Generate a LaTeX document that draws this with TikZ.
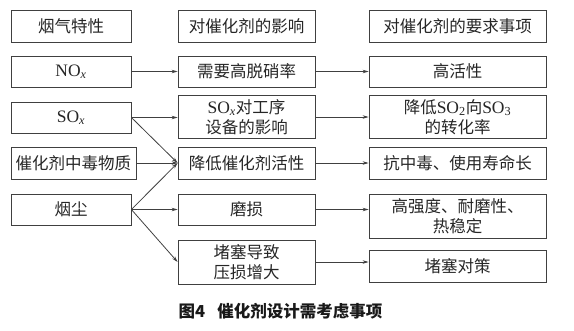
\documentclass[tikz,border=0pt]{standalone}
\usepackage{fontspec}
\setmainfont{Liberation Serif}
\newfontfamily\cjk{Noto Sans CJK SC}
\usetikzlibrary{arrows.meta}
\newcommand\subx{\textsubscript{\textit{x}}}
\newcommand\lat[1]{{\rmfamily\fontsize{17.5}{20}\selectfont #1}}
\begin{document}
\begin{tikzpicture}[x=1pt,y=-1pt,
  box/.style={draw=black!75, line width=0.8pt, inner sep=0pt, align=center,
    font=\cjk\fontsize{16.5}{20}\selectfont, text=black!85},
  c1/.style={box, minimum width=120pt},
  c2/.style={box, minimum width=137pt},
  c3/.style={box, minimum width=177pt},
  h32/.style={minimum height=32pt},
  h44/.style={minimum height=43pt},
  arr/.style={line width=0.8pt, draw=black!75, -{Stealth[length=6pt,width=3.5pt]}}
]
\useasboundingbox (0,0) rectangle (574,330);
% column 1
\node[c1,h32] (a0) at (71,26) {烟气特性};
\node[c1,h32,minimum height=31pt] (a1) at (71,71.5) {\lat{NO\subx}};
\node[c1,h32,minimum height=31pt] (a2) at (71,117.5) {\lat{SO\subx}};
\node[box,h32,minimum width=125pt] (a3) at (73.5,163) {催化剂中毒物质};
\node[c1,h32,minimum height=31pt] (a4) at (71,209.5) {烟尘};
% column 2
\node[c2,h32] (b0) at (246.5,26) {对催化剂的影响};
\node[c2,h32,minimum height=31pt] (b1) at (246.5,71.5) {需要高脱硝率};
\node[c2,h44] (b2) at (246.5,117) {\lat{SO\subx}对工序\\设备的影响};
\node[c2,h32] (b3) at (246.5,163) {降低催化剂活性};
\node[c2,h32,minimum height=31pt] (b4) at (246.5,209.5) {磨损};
\node[c2,h44,minimum height=44pt] (b5) at (246.5,262) {堵塞导致\\压损增大};
% column 3
\node[c3,h32] (c0) at (457.5,26) {对催化剂的要求事项};
\node[c3,h32,minimum height=31pt] (c1n) at (457.5,71.5) {高活性};
\node[c3,h44] (c2n) at (457.5,117) {降低\lat{SO\textsubscript{2}}向\lat{SO\textsubscript{3}}\\的转化率};
\node[c3,h32] (c3n) at (457.5,163) {抗中毒、使用寿命长};
\node[c3,h44,minimum height=44pt] (c4n) at (457.5,216) {高强度、耐磨性、\\热稳定};
\node[c3,h32] (c5n) at (457.5,266) {堵塞对策};
% caption
\node[font=\cjk\bfseries\fontsize{16.5}{20}\selectfont, text=black!90] (cap) at (280.5,311) {图4\hspace{12pt}催化剂设计需考虑事项};
% arrows col1 -> col2
\draw[arr] (a1.east) -- (b1.west);
\draw[arr] (a2.east) -- (a2.east -| b2.west);
\draw[arr] (a2.east) -- (b3.west);
\draw[arr] (a3.east) -- (b3.west);
\draw[arr] (a4.east) -- (b3.west);
\draw[arr] (a4.east) -- (a4.east -| b4.west);
\draw[arr] (a4.east) -- (b5.west);
% arrows col2 -> col3
\draw[arr] (b1.east) -- (c1n.west);
\draw[arr] (b2.east) -- (c2n.west);
\draw[arr] (b3.east) -- (c3n.west);
\draw[arr] (b4.east) -- (b4.east -| c4n.west);
\draw[arr] (b5.east) -- (b5.east -| c5n.west);
\end{tikzpicture}
\end{document}
